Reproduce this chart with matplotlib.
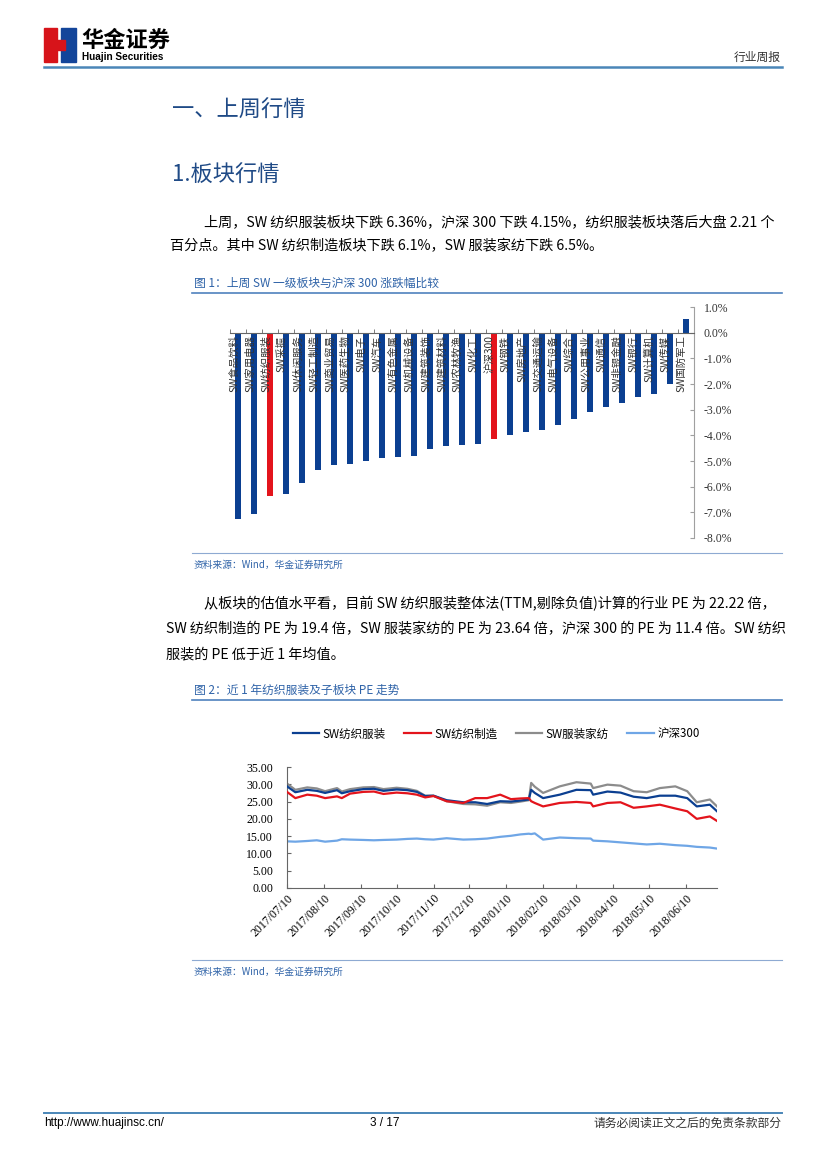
import matplotlib
matplotlib.use("Agg")
import matplotlib.pyplot as plt
import numpy as np
import pandas as pd
from matplotlib.patches import Rectangle
from matplotlib.lines import Line2D

plt.rcParams['font.family'] = ['Noto Sans CJK SC', 'DejaVu Sans']
plt.rcParams['axes.unicode_minus'] = False

# %% data: figure 1, weekly change of SW level-1 sectors vs CSI 300 (%)
sectors = ['SW食品饮料', 'SW家用电器', 'SW纺织服装', 'SW采掘', 'SW休闲服务', 'SW轻工制造',
           'SW商业贸易', 'SW医药生物', 'SW电子', 'SW汽车', 'SW有色金属', 'SW机械设备',
           'SW建筑装饰', 'SW建筑材料', 'SW农林牧渔', 'SW化工', '沪深300', 'SW钢铁',
           'SW房地产', 'SW交通运输', 'SW电气设备', 'SW综合', 'SW公用事业', 'SW通信',
           'SW非银金融', 'SW银行', 'SW计算机', 'SW传媒', 'SW国防军工']
change = [-7.25, -7.05, -6.36, -6.30, -5.86, -5.35, -5.15, -5.10, -5.00, -4.90,
          -4.85, -4.80, -4.55, -4.40, -4.38, -4.35, -4.15, -4.00, -3.88, -3.78,
          -3.60, -3.35, -3.10, -2.90, -2.75, -2.50, -2.40, -2.00, 0.55]
highlight = ['SW纺织服装', '沪深300']

# %% data: figure 2, PE (TTM) of textile & apparel and sub-sectors
pe_dates = ['2017-07-10', '2017-07-17', '2017-07-27', '2017-08-04', '2017-08-11',
            '2017-08-21', '2017-08-25', '2017-09-01', '2017-09-12', '2017-09-21',
            '2017-09-29', '2017-10-10', '2017-10-19', '2017-10-27', '2017-11-03',
            '2017-11-10', '2017-11-21', '2017-12-05', '2017-12-15', '2017-12-25',
            '2018-01-05', '2018-01-14', '2018-01-22', '2018-01-29', '2018-01-31',
            '2018-02-03', '2018-02-10', '2018-02-24', '2018-03-10', '2018-03-22',
            '2018-03-24', '2018-04-05', '2018-04-16', '2018-04-27', '2018-05-08',
            '2018-05-19', '2018-06-01', '2018-06-11', '2018-06-19', '2018-06-30',
            '2018-07-06']
pe_textile = [29.4, 27.7, 28.4, 28.1, 27.5, 28.3, 27.4, 28.0, 28.6, 28.7,
              28.1, 28.5, 28.3, 27.8, 26.6, 26.7, 25.4, 24.8, 24.8, 24.3,
              25.1, 25.0, 25.3, 25.6, 28.4, 27.5, 26.0, 27.0, 28.4, 28.3,
              27.0, 27.9, 27.6, 26.4, 26.0, 26.7, 26.7, 26.0, 23.6, 24.1,
              22.2]
pe_manuf = [27.8, 26.0, 27.0, 26.7, 26.0, 26.5, 26.0, 27.3, 27.8, 27.9,
            27.2, 27.6, 27.4, 27.0, 26.2, 26.6, 25.1, 24.6, 26.0, 26.0,
            27.0, 25.7, 25.9, 26.0, 25.1, 24.6, 23.6, 24.6, 24.9, 24.6,
            23.6, 24.6, 24.8, 23.2, 23.6, 24.1, 23.0, 22.2, 20.0, 20.7,
            19.4]
pe_apparel = [30.2, 28.4, 29.1, 28.8, 28.0, 28.9, 27.9, 28.6, 29.1, 29.2,
              28.6, 29.0, 28.7, 28.1, 26.7, 26.7, 25.1, 24.3, 24.2, 23.8,
              24.8, 24.6, 25.0, 25.4, 30.4, 29.3, 27.5, 29.4, 30.6, 30.2,
              28.9, 29.9, 29.6, 28.0, 27.7, 28.9, 29.4, 28.0, 24.8, 25.6,
              23.6]
pe_hs300 = [13.5, 13.4, 13.6, 13.8, 13.4, 13.7, 14.1, 14.0, 13.9, 13.8,
            13.9, 14.0, 14.2, 14.3, 14.1, 14.0, 14.4, 14.0, 14.1, 14.3,
            14.8, 15.1, 15.5, 15.7, 15.6, 15.8, 14.0, 14.6, 14.4, 14.3,
            13.7, 13.5, 13.2, 12.9, 12.6, 12.8, 12.4, 12.2, 11.9, 11.7,
            11.4]

# %% page
W, H = 827, 1169
BLUE = '#0b3f91'
RED = '#e3141c'
CAP = '#2f63a8'
fig = plt.figure(figsize=(W / 100, H / 100), dpi=100)


def fx(x):
    return x / W


def fy(y):
    return 1 - y / H


def hline(y, x0, x1, color, lw):
    fig.add_artist(Line2D([fx(x0), fx(x1)], [fy(y), fy(y)], color=color, lw=lw))


def text(x, y, s, **kw):
    kw.setdefault('va', 'center')
    fig.text(fx(x), fy(y), s, **kw)


# logo
fig.add_artist(Rectangle((fx(44), fy(62)), 13 / W, 34 / H, transform=fig.transFigure, color='#d7141a'))
fig.add_artist(Rectangle((fx(61), fy(62)), 15 / W, 34 / H, transform=fig.transFigure, color='#13459a'))
fig.add_artist(Rectangle((fx(57), fy(50)), 8 / W, 10 / H, transform=fig.transFigure, color='#d7141a'))
text(81, 40, '华金证券', fontsize=16, fontweight='bold', color='black')
text(82, 57, 'Huajin Securities', fontsize=7.2, fontweight='bold', family='Liberation Sans', color='black')
text(781, 57, '行业周报', fontsize=8.5, ha='right', color='#333333')
hline(67, 44, 782, '#4a86b8', 1.8)

text(172, 110, '一、上周行情', fontsize=16, color='#1f4a86')
text(172, 175, '1.板块行情', fontsize=16, color='#1f4a86')

text(204, 222, '上周，SW 纺织服装板块下跌 6.36%，沪深 300 下跌 4.15%，纺织服装板块落后大盘 2.21 个', fontsize=10.2)
text(170, 246, '百分点。其中 SW 纺织制造板块下跌 6.1%，SW 服装家纺下跌 6.5%。', fontsize=10.2)

text(194, 283, '图 1：上周 SW 一级板块与沪深 300 涨跌幅比较', fontsize=8.5, color=CAP)
hline(293, 192, 782, '#4f81bd', 1.2)
hline(553, 192, 782, '#8eaad2', 0.8)
text(194, 565, '资料来源：Wind，华金证券研究所', fontsize=7, color=CAP)

text(204, 604, '从板块的估值水平看，目前 SW 纺织服装整体法(TTM,剔除负值)计算的行业 PE 为 22.22 倍，', fontsize=10.2)
text(166, 629, 'SW 纺织制造的 PE 为 19.4 倍，SW 服装家纺的 PE 为 23.64 倍，沪深 300 的 PE 为 11.4 倍。SW 纺织', fontsize=10.2)
text(166, 654, '服装的 PE 低于近 1 年均值。', fontsize=10.2)

text(194, 690, '图 2：近 1 年纺织服装及子板块 PE 走势', fontsize=8.5, color=CAP)
hline(700, 192, 782, '#4f81bd', 1.2)
hline(960, 192, 782, '#8eaad2', 0.8)
text(194, 972, '资料来源：Wind，华金证券研究所', fontsize=7, color=CAP)

hline(1113, 44, 782, '#4a86b8', 1.4)
text(44, 1123, 'http://www.huajinsc.cn/', fontsize=8.5, family='Liberation Sans')
text(385, 1123, '3 / 17', fontsize=8.5, family='Liberation Sans', ha='center')
text(781, 1123, '请务必阅读正文之后的免责条款部分', fontsize=8.5, ha='right', color='#333333')

# %% figure 1: bars
ax1 = fig.add_axes([fx(230), fy(538), 464 / W, 231 / H])
xs = np.arange(len(sectors))
colors = [RED if s in highlight else BLUE for s in sectors]
ax1.bar(xs, change, width=0.42, color=colors, zorder=2)
ax1.set_xlim(-0.5, len(sectors) - 0.5)
ax1.set_ylim(-8, 1)
for side in ['left', 'top']:
    ax1.spines[side].set_visible(False)
ax1.spines['bottom'].set_position(('data', 0))
ax1.spines['bottom'].set_color('#666666')
ax1.spines['right'].set_color('#a0a0a0')
ax1.yaxis.tick_right()
yt = np.arange(-8, 1.5, 1)
ax1.set_yticks(yt)
ax1.set_yticklabels([f'{v:.1f}%' for v in yt], family='Liberation Serif')
ax1.tick_params(axis='y', direction='in', length=3, pad=7, labelsize=8.5, color='#a0a0a0', labelcolor='#333333')
ax1.set_xticks([])
ax1.set_xticks(np.arange(-0.5, len(sectors), 1), minor=True)
ax1.tick_params(axis='x', which='minor', direction='in', length=3, color='#666666')
for i, s in enumerate(sectors):
    ax1.annotate(s, (i, 0), xytext=(-3, -2), textcoords='offset points', rotation=90,
                 ha='center', va='top', fontsize=7.5, color='#333333', zorder=3)

# %% figure 2: lines
ax2 = fig.add_axes([fx(287), fy(888), 430 / W, 121 / H])
d = pd.to_datetime(pe_dates)
l1, = ax2.plot(d, pe_textile, color=BLUE, lw=1.6, zorder=3)
l2, = ax2.plot(d, pe_manuf, color=RED, lw=1.6, zorder=3)
l3, = ax2.plot(d, pe_apparel, color='#8c8c8c', lw=1.6, zorder=2)
l4, = ax2.plot(d, pe_hs300, color='#6fa6e6', lw=1.6, zorder=2)
ax2.set_xlim(pd.Timestamp('2017-07-10'), pd.Timestamp('2018-07-06'))
ax2.set_ylim(0, 35)
yt2 = np.arange(0, 36, 5)
ax2.set_yticks(yt2)
ax2.set_yticklabels([f'{v:.2f}' for v in yt2], family='Liberation Serif')
months = [pd.Timestamp(2017 + (6 + k) // 12, (6 + k) % 12 + 1, 10) for k in range(12)]
ax2.set_xticks(months)
ax2.set_xticklabels([m.strftime('%Y/%m/%d') for m in months], rotation=45, ha='right',
                    rotation_mode='anchor', family='Liberation Serif')
ax2.tick_params(axis='y', direction='in', length=3, pad=10, labelsize=8.5, color='#666666')
ax2.tick_params(axis='x', direction='in', length=3, pad=3, labelsize=8.5, color='#666666')
for side in ['top', 'right']:
    ax2.spines[side].set_visible(False)
for side in ['left', 'bottom']:
    ax2.spines[side].set_color('#666666')
fig.legend([l1, l2, l3, l4], ['SW纺织服装', 'SW纺织制造', 'SW服装家纺', '沪深300'],
           loc='center', bbox_to_anchor=(fx(496), fy(734)), ncol=4, frameon=False,
           fontsize=8.3, handlelength=2.3, columnspacing=1.6, handletextpad=0.3)

plt.savefig('out.png', dpi=100)
